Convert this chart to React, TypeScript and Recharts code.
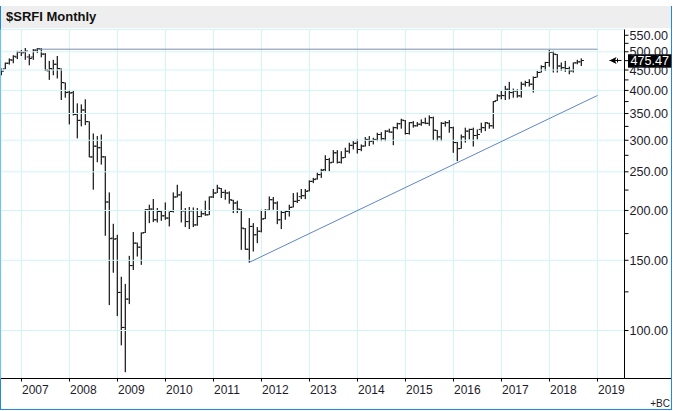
import React from "react";
import {
  Bar,
  CartesianGrid,
  ComposedChart,
  Line,
  ReferenceLine,
  XAxis,
  YAxis,
} from "recharts";

// first bar is Aug 2006, month index counted from Jan 2007
const baseYear = 2007;
const startMonth = "2006-08";

const high = [
  454.0, 470.0, 481.2, 490.1, 502.8, 504.9, 511.0, 493.3, 507.8, 511.0, 510.7, 496.1,
  474.4, 477.2, 488.0, 454.0, 418.7, 401.1, 398.8, 371.2, 369.0, 380.0, 334.6, 312.0,
  307.3, 310.2, 273.6, 222.0, 185.2, 173.8, 136.4, 130.9, 153.9, 176.6, 166.2, 176.2,
  201.6, 206.8, 213.7, 202.8, 200.0, 209.5, 198.8, 222.0, 232.0, 223.3, 202.8, 204.0,
  203.5, 202.8, 200.8, 211.6, 216.9, 226.4, 232.0, 227.7, 225.5, 223.3, 212.8, 211.6,
  201.6, 180.7, 191.4, 185.9, 181.7, 200.8, 201.6, 216.9, 216.2, 210.8, 200.0, 200.0,
  206.8, 221.2, 222.0, 226.4, 226.4, 238.0, 241.4, 248.8, 254.3, 275.2, 271.0, 283.3,
  283.3, 281.6, 287.3, 295.7, 298.5, 301.4, 292.8, 305.5, 307.3, 304.4, 313.3, 314.4,
  318.1, 320.7, 324.5, 332.0, 339.7, 337.0, 333.2, 335.0, 333.2, 338.4, 341.8, 346.3,
  343.8, 318.1, 333.2, 335.0, 337.0, 324.5, 297.2, 310.1, 322.6, 320.7, 322.6, 319.4,
  332.0, 333.2, 332.0, 376.3, 391.3, 398.8, 410.6, 420.4, 404.3, 402.7, 420.4, 422.8,
  426.8, 433.5, 447.8, 462.5, 471.7, 505.0, 502.8, 493.3, 470.0, 474.4, 458.9, 470.0,
  477.2, 481.2,
];

const low = [
  436.6, 452.2, 464.4, 468.0, 479.2, 488.0, 477.2, 462.5, 477.2, 496.1, 484.2, 447.8,
  425.1, 436.6, 428.5, 378.4, 383.6, 328.7, 346.1, 303.2, 325.0, 327.4, 271.7, 225.5,
  264.2, 260.6, 172.8, 115.8, 139.6, 108.7, 91.8, 78.6, 116.5, 141.8, 153.3, 146.1,
  175.6, 185.9, 187.0, 186.6, 188.4, 189.5, 182.4, 197.7, 215.6, 186.6, 181.7, 179.6,
  181.7, 183.1, 192.4, 193.9, 194.7, 214.9, 221.2, 214.9, 212.8, 208.0, 197.0, 197.0,
  159.3, 159.3, 148.0, 157.8, 165.6, 176.2, 190.3, 200.0, 200.8, 184.8, 179.6, 189.5,
  193.1, 203.5, 208.8, 213.6, 213.6, 223.3, 234.2, 239.0, 241.4, 250.8, 250.8, 263.3,
  262.2, 262.2, 271.0, 277.9, 284.4, 277.9, 281.6, 289.2, 290.1, 292.8, 298.4, 298.4,
  298.4, 313.3, 291.5, 319.4, 320.7, 310.1, 310.1, 322.6, 324.5, 326.1, 329.1, 326.1,
  300.2, 298.4, 298.4, 324.5, 313.3, 279.0, 265.9, 285.6, 296.0, 301.4, 289.2, 301.4,
  313.3, 316.2, 320.7, 320.7, 376.3, 380.0, 378.4, 380.0, 383.6, 383.6, 383.6, 409.0,
  409.0, 395.1, 431.0, 443.6, 447.8, 458.9, 443.6, 443.6, 447.8, 445.2, 439.1, 443.6,
  465.2, 460.5,
];

const open = [
  444.4, 453.0, 468.0, 476.4, 485.0, 499.0, 499.0, 485.3, 485.0, 504.9, 507.8, 493.3,
  447.8, 452.2, 465.2, 453.0, 418.0, 396.0, 395.0, 348.2, 336.5, 357.2, 334.0, 272.4,
  289.9, 287.3, 272.6, 210.0, 170.5, 169.9, 124.6, 101.8, 119.9, 145.5, 165.6, 161.8,
  176.0, 200.8, 201.6, 189.5, 198.8, 193.9, 191.4, 198.8, 216.2, 218.8, 199.6, 187.6,
  199.6, 184.0, 193.1, 196.2, 195.0, 216.2, 221.2, 227.0, 222.0, 221.2, 212.0, 208.8,
  201.0, 180.0, 159.9, 182.4, 173.8, 177.4, 190.8, 200.5, 212.8, 208.8, 189.5, 197.7,
  198.8, 204.0, 210.8, 216.6, 217.8, 224.0, 236.6, 240.0, 246.0, 253.3, 268.4, 264.2,
  279.0, 264.2, 271.5, 281.6, 291.3, 294.8, 284.4, 290.1, 301.4, 298.4, 301.4, 310.1,
  302.6, 316.2, 314.4, 322.6, 330.0, 336.0, 311.9, 332.0, 326.1, 329.1, 332.0, 330.8,
  341.8, 317.5, 305.9, 330.8, 332.0, 322.6, 296.0, 286.0, 305.9, 316.2, 319.4, 308.3,
  319.4, 322.6, 330.8, 326.1, 377.0, 387.6, 388.0, 402.7, 395.1, 398.8, 387.6, 414.6,
  418.7, 414.6, 431.5, 444.0, 458.9, 470.0, 498.0, 492.0, 460.5, 456.1, 454.0, 447.8,
  469.0, 471.7,
];

const close = [
  447.0, 468.0, 477.2, 487.2, 499.0, 497.0, 502.0, 481.2, 504.9, 509.0, 493.3, 450.4,
  454.0, 465.2, 454.0, 418.7, 395.1, 394.0, 348.2, 336.5, 357.2, 334.0, 272.4, 289.9,
  287.3, 272.6, 210.0, 169.9, 169.5, 124.6, 101.8, 119.9, 145.5, 165.6, 161.8, 175.6,
  200.8, 201.6, 189.5, 198.8, 193.9, 191.4, 198.8, 216.2, 218.8, 199.6, 187.6, 199.6,
  184.0, 193.1, 196.2, 195.0, 216.2, 221.2, 227.7, 222.0, 221.2, 212.8, 208.8, 201.6,
  180.7, 159.9, 182.4, 173.8, 177.4, 190.3, 200.0, 212.8, 208.8, 189.5, 197.7, 198.8,
  203.5, 210.8, 212.0, 217.8, 223.3, 236.6, 239.0, 246.0, 252.2, 268.4, 263.3, 279.0,
  264.2, 271.0, 281.6, 291.3, 294.8, 284.4, 290.1, 301.4, 298.4, 301.4, 310.1, 302.6,
  316.2, 314.4, 322.6, 330.0, 337.0, 311.9, 332.0, 326.1, 329.1, 332.0, 330.8, 341.8,
  318.1, 305.9, 330.8, 332.0, 322.6, 296.0, 285.6, 305.9, 316.2, 319.4, 308.3, 310.1,
  322.6, 332.0, 326.1, 375.0, 387.6, 388.5, 402.7, 395.1, 398.8, 387.6, 414.6, 418.7,
  414.6, 431.0, 443.6, 458.9, 470.0, 498.0, 493.3, 460.5, 456.1, 454.0, 447.8, 469.0,
  471.7, 475.47,
];

const yearLabels = [
  "2007", "2008", "2009", "2010", "2011", "2012", "2013",
  "2014", "2015", "2016", "2017", "2018", "2019",
];
const priceLabels = [100, 150, 200, 250, 300, 350, 400, 450, 500, 550];
const minorPrices = [125, 175, 225, 275, 325, 375, 425, 475, 525];

// trendline under the 2011 / 2016 lows and the 2007 high level
const trendMonths = ["2011-10", "2019-01"];
const trendValues = [148.3, 388.5];
const levelMonths = ["2007-05", "2019-01"];
const levelValue = 507.5;

const monthIndex = (m: string) => {
  const [y, mo] = m.split("-").map(Number);
  return (y - baseYear) * 12 + mo - 1;
};

const firstT = monthIndex(startMonth);
const rows = high.map((h, i) => ({
  t: firstT + i,
  range: [low[i], h],
  high: h,
  low: low[i],
  open: open[i],
  close: close[i],
}));
const trendData = trendMonths.map((m, i) => ({ t: monthIndex(m), v: trendValues[i] }));
const levelData = levelMonths.map((m) => ({ t: monthIndex(m), v: levelValue }));
const yearTicks = yearLabels.map((y) => (Number(y) - baseYear) * 12);
const yTicks = [...priceLabels, ...minorPrices].sort((a, b) => a - b);
const lastClose = close[close.length - 1];

const FONT = "Arial, 'Liberation Sans', sans-serif";
const GRID = "#d2f4f6";
const Y_DOMAIN: [number, number] = [75.8, 568.6];

const OhlcBar = (props: any) => {
  const { x, y, width, height, payload } = props;
  if (x == null || y == null || !payload) return null;
  const cx = x + width / 2;
  const top = Math.min(y, y + height);
  const bottom = Math.max(y, y + height);
  const lh = Math.log(payload.high);
  const ll = Math.log(payload.low);
  const at = (v: number) =>
    lh === ll ? top : top + ((bottom - top) * (lh - Math.log(v))) / (lh - ll);
  const yo = at(payload.open);
  const yc = at(payload.close);
  return (
    <g fill="#111">
      <rect x={cx - 0.6} y={top} width={1.2} height={Math.max(bottom - top, 1)} />
      <rect x={cx - 2.6} y={yo - 0.5} width={2} height={1} />
      <rect x={cx + 0.6} y={yc - 0.5} width={2} height={1} />
    </g>
  );
};

const YearTick = (props: any) => {
  const { x, y, payload } = props;
  const label = yearLabels[yearTicks.indexOf(payload.value)];
  return (
    <text x={x + 0.5} y={y + 10} fontSize={12} fontFamily={FONT} fill="#1c1c2c">
      {label}
    </text>
  );
};

const PriceTick = (props: any) => {
  const { x, y, payload } = props;
  if (!priceLabels.includes(payload.value)) return null;
  return (
    <text x={x} y={y + 4.6} fontSize={12.6} fontFamily={FONT} fill="#1c1c2c">
      {payload.value.toFixed(2)}
    </text>
  );
};

const PriceTag = ({ viewBox }: any) => {
  if (!viewBox) return null;
  const right = viewBox.x + viewBox.width;
  const yv = viewBox.y;
  return (
    <g>
      <line x1={right - 15} y1={yv} x2={right - 3} y2={yv} stroke="#000" strokeWidth={1} />
      <polygon
        points={`${right - 15},${yv} ${right - 8},${yv - 3.5} ${right - 9.5},${yv} ${right - 8},${yv + 3.5}`}
        fill="#000"
      />
      <line x1={right - 7} y1={yv - 2} x2={right - 7} y2={yv + 2} stroke="#000" strokeWidth={1} />
      <rect x={right + 3.5} y={yv - 6.2} width={43.3} height={13.4} fill="#000" />
      <text x={right + 6} y={yv + 4.8} fontSize={12.6} fontFamily={FONT} fill="#fff">
        {lastClose.toFixed(2)}
      </text>
    </g>
  );
};

const App: React.FC = () => {
  return (
    <div
      style={{
        position: "absolute",
        left: 0,
        top: 0,
        width: 673,
        height: 411,
        background: "#fff",
        fontFamily: FONT,
      }}
    >
      <div
        style={{
          position: "absolute",
          left: 0,
          top: 6,
          width: 672,
          height: 404,
          boxSizing: "border-box",
          borderLeft: "1px solid #1f8ae2",
          borderRight: "1px solid #1f8ae2",
          borderBottom: "1px solid #1f8ae2",
        }}
      />
      <div
        style={{
          position: "absolute",
          left: 1,
          top: 6,
          width: 670,
          height: 21.5,
          background: "#eeeeee",
        }}
      />
      <div
        style={{
          position: "absolute",
          left: 6,
          top: 6,
          height: 21.5,
          lineHeight: "21.5px",
          fontSize: 13,
          fontWeight: "bold",
          color: "#111",
        }}
      >
        $SRFI Monthly
      </div>
      <div
        style={{
          position: "absolute",
          left: 624,
          top: 378,
          width: 47,
          height: 1,
          background: "#000",
        }}
      />
      <div
        style={{
          position: "absolute",
          right: 3,
          top: 398,
          fontSize: 10,
          lineHeight: "12px",
          color: "#1c1c2c",
        }}
      >
        +BC
      </div>
      <div style={{ position: "absolute", left: 0, top: 0 }}>
        <ComposedChart
          width={673}
          height={411}
          data={rows}
          margin={{ top: 29.5, right: 0, bottom: 0, left: 1 }}
        >
          <CartesianGrid horizontal={false} stroke={GRID} />
          <XAxis
            type="number"
            dataKey="t"
            domain={[-5.125, 150.75]}
            allowDataOverflow
            ticks={yearTicks}
            interval={0}
            height={32.5}
            tickSize={3}
            tick={(p: any) => <YearTick {...p} />}
            axisLine={{ stroke: "#000" }}
            tickLine={{ stroke: "#000" }}
          />
          <YAxis
            orientation="right"
            scale="log"
            type="number"
            domain={Y_DOMAIN}
            allowDataOverflow
            ticks={yTicks}
            interval={0}
            width={48.5}
            tickSize={4}
            tickMargin={1}
            tick={(p: any) => <PriceTick {...p} />}
            axisLine={{ stroke: "#000" }}
            tickLine={{ stroke: "#000" }}
          />
          <ReferenceLine y={Y_DOMAIN[1]} stroke={GRID} />
          {priceLabels
            .filter((v) => v < 550)
            .map((v) => (
              <ReferenceLine key={v} y={v} stroke={GRID} />
            ))}
          <Line
            data={levelData}
            dataKey="v"
            stroke="#7d8fb3"
            strokeWidth={1}
            dot={false}
            activeDot={false}
            isAnimationActive={false}
          />
          <Line
            data={trendData}
            dataKey="v"
            stroke="#5f85c8"
            strokeWidth={1}
            dot={false}
            activeDot={false}
            isAnimationActive={false}
          />
          <Bar
            dataKey="range"
            barSize={4}
            shape={(p: any) => <OhlcBar {...p} />}
            isAnimationActive={false}
          />
          <ReferenceLine
            y={lastClose}
            stroke="none"
            label={{ content: (p: any) => <PriceTag viewBox={p.viewBox} /> }}
          />
        </ComposedChart>
      </div>
    </div>
  );
};

export default App;
